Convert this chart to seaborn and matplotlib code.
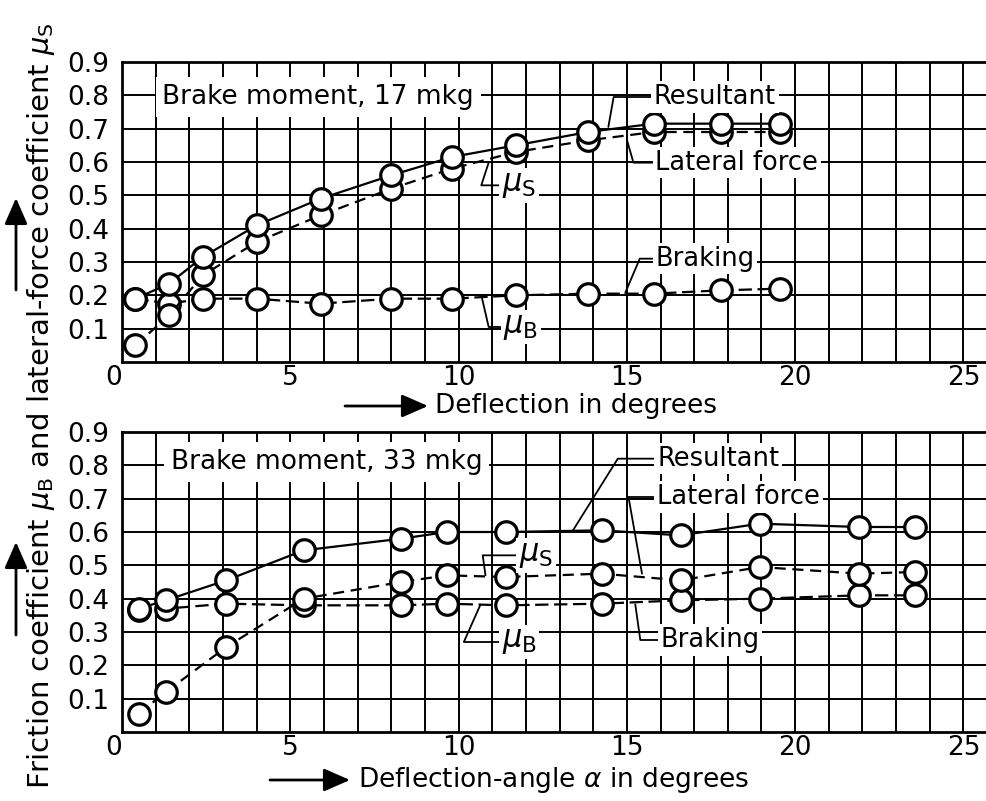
import matplotlib.pyplot as plt
import seaborn as sns
import pandas as pd

# brake moment 17 mkg (upper panel)
defl_17 = [0.4, 1.4, 2.4, 4.0, 5.9, 8.0, 9.8, 11.7, 13.85, 15.8, 17.8, 19.55]
resultant_17 = [0.19, 0.235, 0.315, 0.41, 0.49, 0.56, 0.615, 0.65, 0.69, 0.715, 0.715, 0.715]
lateral_17 = [0.05, 0.14, 0.26, 0.36, 0.44, 0.52, 0.58, 0.63, 0.665, 0.69, 0.69, 0.69]
braking_17 = [0.19, 0.175, 0.19, 0.19, 0.175, 0.19, 0.19, 0.20, 0.205, 0.205, 0.215, 0.22]

# brake moment 33 mkg (lower panel)
defl_33 = [0.5, 1.3, 3.1, 5.4, 8.3, 9.65, 11.4, 14.25, 16.6, 18.95, 21.9, 23.55]
resultant_33 = [0.37, 0.395, 0.455, 0.545, 0.58, 0.60, 0.60, 0.605, 0.59, 0.625, 0.615, 0.615]
lateral_33 = [0.055, 0.12, 0.255, 0.40, 0.45, 0.47, 0.465, 0.475, 0.455, 0.495, 0.475, 0.48]
braking_33 = [0.365, 0.37, 0.385, 0.38, 0.38, 0.385, 0.38, 0.385, 0.395, 0.40, 0.41, 0.41]

y_ticks = [0.1, 0.2, 0.3, 0.4, 0.5, 0.6, 0.7, 0.8, 0.9]
y_tick_labels = ["0.1", "0.2", "0.3", "0.4", "0.5", "0.6", "0.7", "0.8", "0.9"]
x_ticks = [0, 5, 10, 15, 20, 25]

sns.set_style("white")
plt.rcParams["font.family"] = ["DejaVu Sans"]
plt.rcParams["mathtext.fontset"] = "dejavusans"
plt.rcParams["text.color"] = "black"
plt.rcParams["axes.labelcolor"] = "black"
plt.rcParams["xtick.color"] = "black"
plt.rcParams["ytick.color"] = "black"

W, H = 987, 801


def fx(px):
    return px / W


def fy(py):
    return 1 - py / H


def make_df(x, res, lat, brk):
    rows = []
    for name, vals in [("Braking", brk), ("Lateral force", lat), ("Resultant", res)]:
        for xi, yi in zip(x, vals):
            rows.append({"Deflection": xi, "mu": yi, "Series": name})
    return pd.DataFrame(rows)


def draw_panel(ax, df):
    sns.lineplot(
        data=df, x="Deflection", y="mu", hue="Series", style="Series",
        palette={"Resultant": "black", "Lateral force": "black", "Braking": "black"},
        dashes={"Resultant": "", "Lateral force": (5, 3), "Braking": (6, 2.5)},
        markers={"Resultant": "o", "Lateral force": "o", "Braking": "o"},
        markersize=15.5, markerfacecolor="white", markeredgecolor="black",
        markeredgewidth=2.3, linewidth=1.6, estimator=None, sort=False,
        legend=False, ax=ax,
    )
    ax.set_xlim(0, 25.7)
    ax.set_ylim(0, 0.9)
    ax.set_xticks(x_ticks)
    ax.set_xticks(range(0, 26), minor=True)
    ax.set_yticks(y_ticks)
    ax.set_yticklabels(y_tick_labels)
    ax.grid(True, which="both", color="black", linewidth=1.4)
    ax.set_axisbelow(True)
    ax.tick_params(axis="both", which="both", length=0, labelsize=19)
    ax.tick_params(axis="y", pad=9)
    ax.tick_params(axis="x", pad=2)
    ax.get_xticklabels()[0].set_horizontalalignment("right")
    for s in ax.spines.values():
        s.set_visible(True)
        s.set_color("black")
        s.set_linewidth(2)
    ax.set_xlabel("")
    ax.set_ylabel("")


def label(ax, text, xy, xytext, angle_b, ha="left", size=18.5):
    ax.annotate(
        text, xy=xy, xytext=xytext, ha=ha, va="center", fontsize=size,
        bbox=dict(facecolor="white", edgecolor="none", pad=2),
        arrowprops=dict(arrowstyle="-", lw=1.3, color="black", shrinkA=0, shrinkB=0,
                        connectionstyle=f"angle,angleA=0,angleB={angle_b},rad=0"),
        zorder=5,
    )


fig = plt.figure(figsize=(W / 100, H / 100), dpi=100)
ax1 = fig.add_axes([fx(122), fy(362), fx(987) - fx(122), 300 / H])
ax2 = fig.add_axes([fx(122), fy(732), fx(987) - fx(122), 300 / H])

draw_panel(ax1, make_df(defl_17, resultant_17, lateral_17, braking_17))
draw_panel(ax2, make_df(defl_33, resultant_33, lateral_33, braking_33))

box = dict(facecolor="white", edgecolor="none", pad=5)

# upper panel texts
ax1.text(1.2, 0.795, "Brake moment, 17 mkg", fontsize=19, va="center", ha="left", bbox=box, zorder=5)
label(ax1, "Resultant", (14.45, 0.705), (15.8, 0.795), 80)
label(ax1, "Lateral force", (15.0, 0.667), (15.85, 0.598), 106)
label(ax1, r"$\mu_{\rm S}$", (10.9, 0.60), (11.8, 0.53), 72, ha="center", size=22)
label(ax1, r"$\mu_{\rm B}$", (10.7, 0.19), (11.85, 0.105), 103, ha="center", size=22)
label(ax1, "Braking", (14.95, 0.207), (15.85, 0.31), 67)

# lower panel texts
ax2.text(1.45, 0.81, "Brake moment, 33 mkg", fontsize=19, va="center", ha="left", bbox=box, zorder=5)
label(ax2, "Resultant", (13.4, 0.605), (15.9, 0.82), 58)
label(ax2, "Lateral force", (15.45, 0.475), (15.9, 0.705), 100)
label(ax2, r"$\mu_{\rm S}$", (10.8, 0.47), (12.3, 0.53), 98, ha="center", size=22)
label(ax2, r"$\mu_{\rm B}$", (10.65, 0.382), (11.8, 0.27), 66, ha="center", size=22)
label(ax2, "Braking", (15.25, 0.383), (16.0, 0.276), 98)

# axis labels with arrows
arrow = dict(arrowstyle="-|>,head_length=0.8,head_width=0.35", lw=2, color="black",
             shrinkA=0, shrinkB=0)
fig.text(fx(435), fy(406), "Deflection in degrees", fontsize=19, ha="left", va="center")
fig.add_artist(plt.matplotlib.patches.FancyArrowPatch(
    (fx(345), fy(406)), (fx(428), fy(406)), transform=fig.transFigure, **arrow,
    mutation_scale=20))
fig.text(fx(358), fy(780), r"Deflection-angle $\alpha$ in degrees", fontsize=19,
         ha="left", va="center")
fig.add_artist(plt.matplotlib.patches.FancyArrowPatch(
    (fx(270), fy(780)), (fx(350), fy(780)), transform=fig.transFigure, **arrow,
    mutation_scale=20))

fig.text(fx(41), fy(406),
         r"Friction coefficient $\mu_{\rm B}$ and lateral-force coefficient $\mu_{\rm S}$",
         fontsize=21, rotation=90, ha="center", va="center")
fig.add_artist(plt.matplotlib.patches.FancyArrowPatch(
    (fx(16), fy(290)), (fx(16), fy(198)), transform=fig.transFigure, **arrow,
    mutation_scale=20))
fig.add_artist(plt.matplotlib.patches.FancyArrowPatch(
    (fx(16), fy(635)), (fx(16), fy(542)), transform=fig.transFigure, **arrow,
    mutation_scale=20))

fig.savefig("out.png", dpi=100)
